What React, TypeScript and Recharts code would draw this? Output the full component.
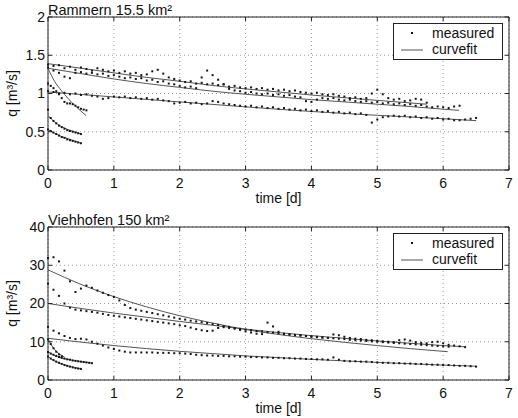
import React from "react";
import {
  ComposedChart,
  Scatter,
  Line,
  XAxis,
  YAxis,
  CartesianGrid,
  ReferenceArea,
} from "recharts";

// sampling interval of the gauge records, in days
const STEP = 1 / 12;
const FINE = 1 / 24;

const timeTicks = [0, 1, 2, 3, 4, 5, 6, 7];

// ---- Rammern 15.5 km², discharge q [m³/s] ----
const rammernTicks = [0, 0.5, 1, 1.5, 2];

const rammernQ1 = [
  1.38, 1.36, 1.37, 1.33, 1.35, 1.31, 1.34, 1.32, 1.3, 1.33, 1.31, 1.29, 1.3, 1.27, 1.29, 1.26, 1.27, 1.24,
  1.25, 1.29, 1.31, 1.26, 1.21, 1.19, 1.17, 1.15, 1.16, 1.13, 1.14, 1.12, 1.13, 1.11, 1.12, 1.09, 1.1, 1.08,
  1.07, 1.08, 1.06, 1.07, 1.05, 1.06, 1.04, 1.05, 1.03, 1.04, 1.02, 1.01, 1.0, 1.01, 0.99, 0.98, 0.99, 0.97,
  0.96, 0.94, 0.95, 0.93, 0.94, 1.0, 1.05, 0.99, 0.94, 0.92, 0.93, 0.9, 0.91, 0.93, 0.92, 0.88,
];
const rammernQ2 = [
  1.34, 1.3, 1.27, 1.22, 1.2, 1.27, 1.28, 1.26, 1.27, 1.25, 1.26, 1.23, 1.24, 1.22, 1.2, 1.21, 1.19, 1.2,
  1.17, 1.18, 1.15, 1.16, 1.13, 1.12, 1.1, 1.08, 1.09, 1.07, 1.21, 1.3, 1.24, 1.18, 1.12, 1.06, 1.04, 1.03,
  1.01, 1.02, 1.0, 0.99, 1.0, 0.98, 0.99, 0.97, 0.98, 0.96, 0.95, 0.9, 0.89, 0.92, 0.94, 0.93, 0.94, 0.92,
  0.91, 0.92, 0.9, 0.89, 0.9, 0.88, 0.89, 0.87, 0.88, 0.86, 0.87, 0.85, 0.86, 0.84, 0.85, 0.83, 0.82, 0.83,
  0.82, 0.81, 0.83, 0.84,
];
const rammernQ3 = [
  1.03, 1.02, 1.0, 1.01, 0.99, 1.0, 0.98, 0.99, 0.97, 0.96, 0.93, 0.94, 0.96, 0.95, 0.96, 0.94, 0.95, 0.93,
  0.94, 0.92, 0.93, 0.91, 0.9, 0.87, 0.88, 0.89, 0.87, 0.88, 0.86, 0.87, 0.9, 0.89, 0.87, 0.86, 0.85, 0.84,
  0.83, 0.84, 0.82, 0.83, 0.81, 0.82, 0.8, 0.81, 0.79, 0.8, 0.78, 0.79, 0.77, 0.78, 0.76, 0.77, 0.75, 0.76,
  0.74, 0.75, 0.73, 0.74, 0.72, 0.62, 0.66, 0.69, 0.7, 0.71, 0.7, 0.71, 0.69, 0.7, 0.68, 0.69, 0.67, 0.68,
  0.66, 0.67, 0.65, 0.65, 0.66, 0.67, 0.68,
];
const rammernQ4 = [1.13, 1.1, 1.07, 1.03, 0.99, 0.94, 0.89, 0.87, 0.87, 0.86, 0.84, 0.82, 0.8, 0.79, 0.78];
const rammernQ5 = [0.79, 0.68, 0.64, 0.61, 0.58, 0.56, 0.54, 0.52, 0.51, 0.5, 0.49, 0.48, 0.47];
const rammernQ6 = [0.53, 0.51, 0.49, 0.47, 0.45, 0.43, 0.42, 0.4, 0.39, 0.38, 0.37, 0.36, 0.35];

// fitted recession curves, [t (d), q (m³/s)]
const rammernFit1 = [
  [0, 1.39], [0.5, 1.33], [1, 1.27], [1.5, 1.21], [2, 1.16], [2.5, 1.105], [3, 1.06], [3.5, 1.02],
  [4, 0.98], [4.5, 0.945], [5, 0.91], [5.75, 0.86],
];
const rammernFit2 = [
  [0, 1.33], [0.5, 1.26], [1, 1.19], [1.5, 1.13], [2, 1.08], [2.5, 1.03], [3, 0.99], [3.5, 0.955],
  [4, 0.92], [4.5, 0.89], [5, 0.86], [5.5, 0.83], [6, 0.795], [6.24, 0.78],
];
const rammernFit3 = [
  [0, 1.02], [1, 0.955], [2, 0.89], [3, 0.825], [4, 0.765], [5, 0.715], [6, 0.67], [6.5, 0.645],
];
const rammernFit4 = [[0, 1.33], [0.1, 1.16], [0.2, 1.04], [0.3, 0.94], [0.4, 0.85], [0.5, 0.77], [0.58, 0.71]];
const rammernFit5 = [[0, 0.71], [0.1, 0.63], [0.2, 0.57], [0.3, 0.53], [0.4, 0.5], [0.5, 0.47]];
const rammernFit6 = [[0, 0.53], [0.1, 0.48], [0.2, 0.44], [0.3, 0.41], [0.4, 0.38], [0.5, 0.35]];

// ---- Viehhofen 150 km², discharge q [m³/s] ----
const viehhofenTicks = [0, 10, 20, 30, 40];

const viehhofenQ1 = [
  31.9, 32.1, 31.0, 28.6, 25.8, 23.0, 23.9, 24.7, 24.1, 23.4, 22.8, 22.2, 21.7, 20.8, 19.6, 18.8, 18.4, 18.1,
  17.8, 17.5, 17.2, 16.9, 16.6, 16.3, 16.0, 15.8, 15.5, 15.3, 15.1, 14.9, 14.6, 14.4, 14.1, 13.9, 13.6, 13.4,
  13.2, 13.0, 12.8, 12.7, 12.5, 12.4, 12.2, 12.1, 11.9, 11.8, 11.7, 11.5, 11.4, 11.3, 11.1, 11.0, 10.9, 10.8,
  10.7, 10.5, 10.4, 10.3, 10.2, 10.1, 10.0, 9.9, 9.8, 9.7, 9.6, 9.5, 9.4, 9.3, 9.2, 9.1, 9.0, 8.9, 8.8, 8.7,
];
const viehhofenQ2 = [
  25.2, 23.6, 22.0, 20.0, 18.9, 18.4, 18.2, 18.0, 17.8, 17.6, 17.3, 17.0, 16.8, 16.6, 16.4, 16.2, 16.0, 15.8,
  15.6, 15.4, 15.2, 15.0, 14.8, 14.6, 14.3, 14.1, 13.7, 13.3, 13.0, 12.8, 12.9, 13.6, 13.8, 13.6, 13.4, 13.1,
  12.7, 12.4, 12.1, 12.0, 15.0, 14.0, 12.6, 12.0, 11.9, 11.7, 11.6, 11.5, 11.3, 11.2, 11.1, 11.0, 11.9, 11.7,
  11.3, 11.0, 10.8, 10.7, 10.5, 10.4, 10.2, 10.1, 10.0, 9.9, 10.4, 10.6, 10.3, 9.9, 9.7, 9.6, 9.9, 10.0,
  9.6, 9.2, 9.0, 8.8, 8.6,
];
const viehhofenQ3 = [
  13.9, 12.9, 12.2, 11.5, 11.0, 10.7, 10.8, 10.6, 10.0, 9.5, 9.0, 8.5, 8.1, 7.7, 7.4, 7.2, 7.2, 7.2, 7.2,
  7.2, 7.1, 7.1, 7.1, 7.0, 7.0, 6.9, 6.8, 6.6, 6.5, 6.4, 6.4, 6.3, 6.3, 6.2, 6.2, 6.1, 6.1, 6.0, 6.0, 5.9,
  5.9, 5.8, 5.8, 5.7, 5.7, 5.6, 5.6, 5.5, 5.5, 5.4, 5.4, 5.3, 5.9, 5.3, 5.0, 4.9, 4.9, 4.8, 4.8, 4.7, 4.6,
  4.5, 4.5, 4.4, 4.4, 4.3, 4.3, 4.2, 4.2, 4.1, 4.0, 4.0, 3.9, 3.9, 3.8, 3.7, 3.7, 3.6, 3.5,
];
const viehhofenQ4 = [7.3, 6.9, 6.6, 6.3, 6.0, 5.8, 5.6, 5.4, 5.3, 5.1, 5.0, 4.9, 4.8, 4.7, 4.6, 4.5, 4.4];
const viehhofenQ5 = [6.1, 5.6, 5.2, 4.8, 4.5, 4.2, 3.9, 3.7, 3.5, 3.3, 3.1, 3.0, 2.9];
const viehhofenQ6 = [10.6, 9.4, 8.3, 7.4, 6.7, 6.2];

const viehhofenFit1 = [
  [0, 28.8], [0.5, 25.0], [1, 21.8], [1.5, 19.1], [2, 16.8], [2.5, 14.9], [3, 13.2], [3.5, 11.9],
  [4, 10.8], [4.5, 9.85], [5, 9.0], [5.5, 8.2], [6.07, 7.4],
];
const viehhofenFit2 = [
  [0, 20.0], [0.5, 18.7], [1, 17.5], [1.5, 16.4], [2, 15.3], [2.5, 14.3], [3, 13.3], [3.5, 12.4],
  [4, 11.6], [4.5, 10.9], [5, 10.2], [5.5, 9.6], [6, 9.0], [6.32, 8.7],
];
const viehhofenFit3 = [
  [0, 10.9], [0.5, 9.9], [1, 9.0], [1.5, 8.2], [2, 7.5], [2.5, 6.9], [3, 6.3], [3.5, 5.85],
  [4, 5.4], [4.5, 5.0], [5, 4.6], [5.5, 4.25], [6, 3.9], [6.5, 3.6],
];
const viehhofenFit4 = [[0, 7.4], [0.1, 6.4], [0.2, 5.8], [0.3, 5.4], [0.4, 5.1], [0.5, 4.8], [0.67, 4.4]];
const viehhofenFit5 = [[0, 6.1], [0.1, 5.0], [0.2, 4.3], [0.3, 3.7], [0.4, 3.3], [0.5, 2.9]];
const viehhofenFit6 = [[0, 10.8], [0.05, 9.2], [0.1, 8.0], [0.15, 7.1], [0.2, 6.5], [0.25, 6.0]];

// ---- drawing ----
type Pt = { t: number; q: number };

const sampled = (q: number[], dt: number): Pt[] => q.map((v, i) => ({ t: i * dt, q: v }));
const curve = (p: number[][]): Pt[] => p.map(([t, q]) => ({ t, q }));

const FONT = "'Liberation Sans', Arial, Helvetica, sans-serif";
const FS = 14;
const INK = "#111";
const FRAME = "#222";
const W = 518;
const H = 209;
const PLOT_H = 153;
const LEFT = 48;
const RIGHT = 509;
const TICK = 4;

const Dot = (p: any) => <rect x={p.cx - 1} y={p.cy - 1} width={2} height={2} fill="#151515" />;

// x tick: label below the frame plus short inward marks on bottom and top edges
const XTick = (p: any) => (
  <g>
    <line x1={p.x} x2={p.x} y1={p.frameBottom} y2={p.frameBottom - TICK} stroke={FRAME} />
    <line x1={p.x} x2={p.x} y1={p.frameTop} y2={p.frameTop + TICK} stroke={FRAME} />
    <text x={p.x} y={p.y} dy="0.71em" textAnchor="middle" fontSize={FS} fontFamily={FONT} fill={INK}>
      {p.payload.value}
    </text>
  </g>
);

// y tick: label left of the frame plus inward marks on left and right edges
const YTick = (p: any) => (
  <g>
    <line x1={LEFT} x2={LEFT + TICK} y1={p.y} y2={p.y} stroke={FRAME} />
    <line x1={RIGHT - TICK} x2={RIGHT} y1={p.y} y2={p.y} stroke={FRAME} />
    <text x={p.x} y={p.y} dy="0.355em" textAnchor="end" fontSize={FS} fontFamily={FONT} fill={INK}>
      {p.payload.value}
    </text>
  </g>
);

type Record = { q: number[]; dt: number };

type PanelProps = {
  title: string;
  yTicks: number[];
  records: Record[];
  fits: number[][][];
  top: number;
};

function Panel({ title, yTicks, records, fits, top }: PanelProps) {
  const yMax = yTicks[yTicks.length - 1];
  const bottom = top + PLOT_H;
  const mid = top + PLOT_H / 2;
  const lx = 393;
  const ly = top + 6;

  return (
    <div style={{ position: "relative", width: W, height: H }}>
      <ComposedChart width={W} height={H} margin={{ top, right: W - RIGHT, bottom: 0, left: 0 }}>
        <CartesianGrid stroke="#9a9a9a" strokeDasharray="1 3" />
        <XAxis
          dataKey="t"
          type="number"
          domain={[0, 7]}
          ticks={timeTicks}
          interval={0}
          height={H - bottom}
          axisLine={false}
          tickLine={false}
          tickSize={0}
          tickMargin={8}
          tick={<XTick frameTop={top} frameBottom={bottom} />}
        />
        <YAxis
          dataKey="q"
          type="number"
          domain={[0, yMax]}
          ticks={yTicks}
          interval={0}
          width={LEFT}
          axisLine={false}
          tickLine={false}
          tickSize={0}
          tickMargin={3}
          tick={<YTick />}
        />
        <ReferenceArea x1={0} x2={7} y1={0} y2={yMax} fill="none" stroke={FRAME} strokeWidth={1} />
        {fits.map((f, i) => (
          <Line
            key={`fit-${i}`}
            data={curve(f)}
            dataKey="q"
            type="monotone"
            stroke="#555"
            strokeWidth={1}
            dot={false}
            activeDot={false}
            isAnimationActive={false}
          />
        ))}
        {records.map((r, i) => (
          <Scatter
            key={`rec-${i}`}
            data={sampled(r.q, r.dt)}
            dataKey="q"
            shape={Dot}
            isAnimationActive={false}
          />
        ))}
      </ComposedChart>
      <svg
        width={W}
        height={H}
        style={{ position: "absolute", left: 0, top: 0, pointerEvents: "none" }}
        fontFamily={FONT}
      >
        <text x={LEFT} y={top - 2.5} fontSize={14.5} fill={INK}>
          {title}
        </text>
        <text x={(LEFT + RIGHT) / 2} y={bottom + 32.5} textAnchor="middle" fontSize={FS} fill={INK}>
          time [d]
        </text>
        <text transform={`translate(17, ${mid}) rotate(-90)`} textAnchor="middle" fontSize={FS} fill={INK}>
          q [m³/s]
        </text>
        <rect x={lx + 0.5} y={ly + 0.5} width={109} height={36} fill="#fff" stroke={FRAME} />
        <rect x={lx + 18} y={ly + 9} width={2} height={2} fill="#151515" />
        <text x={lx + 39} y={ly + 15.3} fontSize={FS} fill={INK}>
          measured
        </text>
        <line x1={lx + 8} x2={lx + 30} y1={ly + 27} y2={ly + 27} stroke="#555" />
        <text x={lx + 39} y={ly + 31} fontSize={FS} fill={INK}>
          curvefit
        </text>
      </svg>
    </div>
  );
}

export default function App() {
  return (
    <div style={{ position: "absolute", left: 0, top: 0, width: W, height: 2 * H, background: "#fff" }}>
      <Panel
        title="Rammern 15.5 km²"
        yTicks={rammernTicks}
        top={17}
        records={[
          { q: rammernQ1, dt: STEP },
          { q: rammernQ2, dt: STEP },
          { q: rammernQ3, dt: STEP },
          { q: rammernQ4, dt: FINE },
          { q: rammernQ5, dt: FINE },
          { q: rammernQ6, dt: FINE },
        ]}
        fits={[rammernFit1, rammernFit2, rammernFit3, rammernFit4, rammernFit5, rammernFit6]}
      />
      <Panel
        title="Viehhofen 150 km²"
        yTicks={viehhofenTicks}
        top={18}
        records={[
          { q: viehhofenQ1, dt: STEP },
          { q: viehhofenQ2, dt: STEP },
          { q: viehhofenQ3, dt: STEP },
          { q: viehhofenQ4, dt: FINE },
          { q: viehhofenQ5, dt: FINE },
          { q: viehhofenQ6, dt: FINE },
        ]}
        fits={[viehhofenFit1, viehhofenFit2, viehhofenFit3, viehhofenFit4, viehhofenFit5, viehhofenFit6]}
      />
    </div>
  );
}
